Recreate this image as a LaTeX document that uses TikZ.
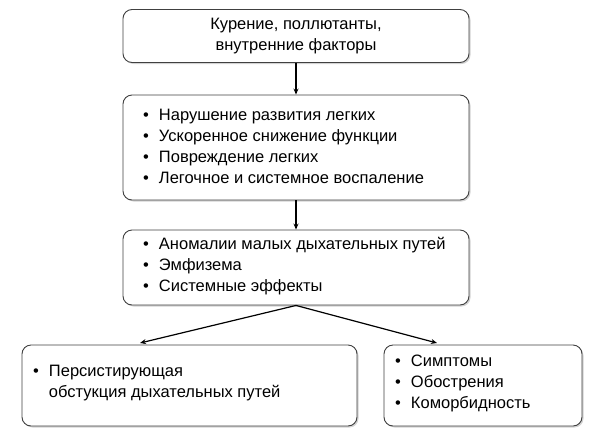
\documentclass[tikz,border=0pt]{standalone}
\usepackage{fontspec}
\setmainfont{Liberation Sans}
\usetikzlibrary{shadows,arrows.meta}
\newcommand{\bl}[1]{\begin{tabular}{@{}l@{\hspace{10pt}}l@{}}#1\end{tabular}}
\tikzset{
  box/.style={draw=black!75, line width=0.9pt, rounded corners=9pt, fill=white,
    drop shadow={shadow xshift=1.5pt, shadow yshift=-1.5pt, opacity=0.35},
    inner xsep=0pt, inner ysep=0pt, font=\fontsize{16.5}{21}\selectfont},
  txt/.style={anchor=west, inner sep=0pt, font=\fontsize{16.5}{21}\selectfont},
  link/.style={-{Stealth[length=6pt,width=5pt]}, line width=1.2pt}
}
\begin{document}
\begin{tikzpicture}[x=1pt, y=-1pt]
  \useasboundingbox (0,0) rectangle (600,440);

  \node [box, minimum width=346pt, minimum height=53pt, align=center] (cause) at (296,36)
    {Курение, поллютанты,\\внутренние факторы};

  \node [box, minimum width=346pt, minimum height=105pt] (damage) at (296,147.5) {};
  \node [txt] (damage-text) at (143,148)
    {\bl{\textbullet & Нарушение развития легких\\
         \textbullet & Ускоренное снижение функции\\
         \textbullet & Повреждение легких\\
         \textbullet & Легочное и системное воспаление}};

  \node [box, minimum width=346pt, minimum height=75pt] (change) at (296,267.5) {};
  \node [txt] (change-text) at (143,266)
    {\bl{\textbullet & Аномалии малых дыхательных путей\\
         \textbullet & Эмфизема\\
         \textbullet & Системные эффекты}};

  \node [box, minimum width=335pt, minimum height=81pt] (obstr) at (189.5,385.5) {};
  \node [txt] (obstr-text) at (33,383)
    {\bl{\textbullet & Персистирующая\\
         & обстукция дыхательных путей}};

  \node [box, minimum width=198pt, minimum height=81pt] (sympt) at (483,385.5) {};
  \node [txt] (sympt-text) at (395,383)
    {\bl{\textbullet & Симптомы\\
         \textbullet & Обострения\\
         \textbullet & Коморбидность}};

  \coordinate (split) at (change.south);
  \coordinate (obstr-in) at (140,343);
  \coordinate (sympt-in) at (437,343);

  \draw [link] (cause.south) -- (damage.north);
  \draw [link] (damage.south) -- (change.north);
  \draw [link] (split) -- (obstr-in);
  \draw [link] (split) -- (sympt-in);
\end{tikzpicture}
\end{document}
